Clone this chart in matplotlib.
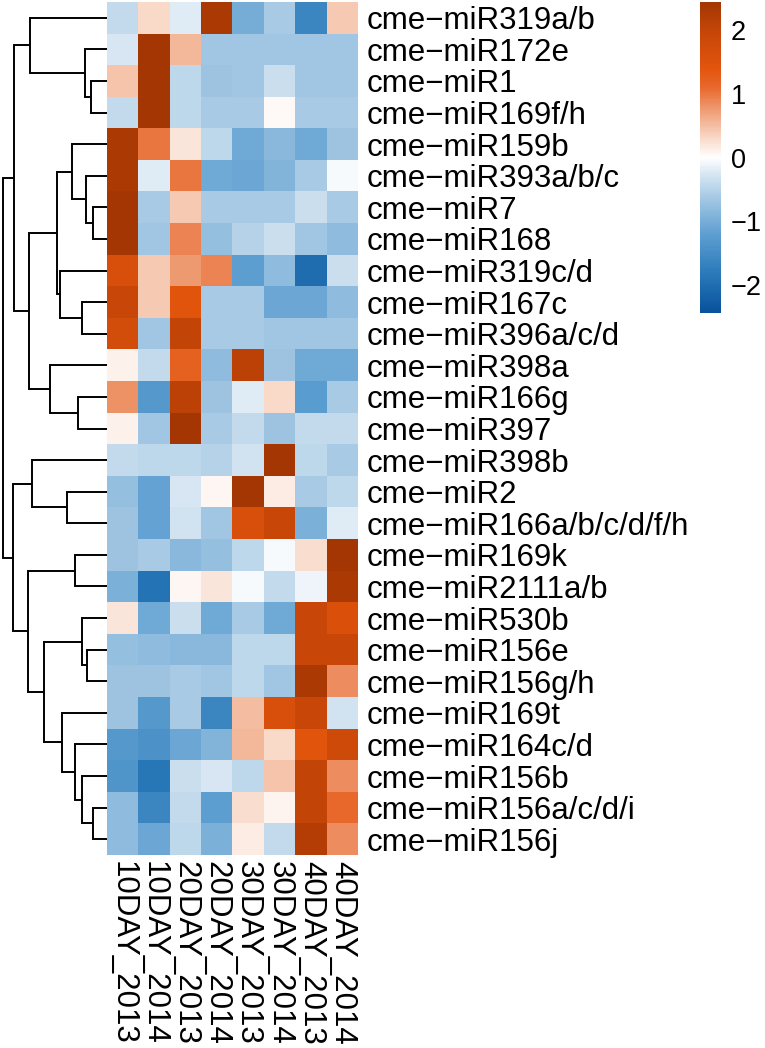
import numpy as np
import matplotlib
matplotlib.use("Agg")
import matplotlib.pyplot as plt
from matplotlib.colors import LinearSegmentedColormap, Normalize

plt.rcParams["font.family"] = ["Liberation Sans", "DejaVu Sans"]

# ---- data ----
MIRNAS = ["cme−miR319a/b", "cme−miR172e", "cme−miR1", "cme−miR169f/h",
          "cme−miR159b", "cme−miR393a/b/c", "cme−miR7", "cme−miR168",
          "cme−miR319c/d", "cme−miR167c", "cme−miR396a/c/d", "cme−miR398a",
          "cme−miR166g", "cme−miR397", "cme−miR398b", "cme−miR2",
          "cme−miR166a/b/c/d/f/h", "cme−miR169k", "cme−miR2111a/b",
          "cme−miR530b", "cme−miR156e", "cme−miR156g/h", "cme−miR169t",
          "cme−miR164c/d", "cme−miR156b", "cme−miR156a/c/d/i", "cme−miR156j"]
SAMPLES = ["10DAY_2013", "10DAY_2014", "20DAY_2013", "20DAY_2014",
           "30DAY_2013", "30DAY_2014", "40DAY_2013", "40DAY_2014"]

Z = np.array([
    [-0.40, 0.30, -0.20, 2.30, -1.00, -0.60, -1.60, 0.40],
    [-0.25, 2.60, 0.55, -0.65, -0.65, -0.65, -0.65, -0.65],
    [0.45, 2.60, -0.45, -0.70, -0.65, -0.35, -0.65, -0.65],
    [-0.40, 2.60, -0.45, -0.60, -0.60, 0.05, -0.60, -0.60],
    [2.30, 1.00, 0.20, -0.45, -1.05, -0.85, -1.05, -0.70],
    [2.30, -0.20, 1.00, -1.05, -1.10, -0.90, -0.60, -0.05],
    [2.55, -0.60, 0.40, -0.60, -0.60, -0.60, -0.35, -0.60],
    [2.50, -0.65, 0.90, -0.75, -0.50, -0.35, -0.65, -0.80],
    [1.60, 0.40, 0.75, 0.90, -1.20, -0.80, -2.00, -0.35],
    [1.90, 0.40, 1.40, -0.60, -0.60, -1.10, -1.10, -0.80],
    [1.70, -0.65, 2.00, -0.60, -0.60, -0.65, -0.65, -0.65],
    [0.10, -0.40, 1.20, -0.80, 2.10, -0.70, -1.05, -1.05],
    [0.80, -1.30, 2.10, -0.70, -0.20, 0.30, -1.25, -0.60],
    [0.10, -0.65, 2.55, -0.60, -0.40, -0.70, -0.40, -0.40],
    [-0.40, -0.45, -0.45, -0.50, -0.30, 2.55, -0.45, -0.60],
    [-0.75, -1.15, -0.25, 0.07, 2.55, 0.15, -0.60, -0.45],
    [-0.70, -1.15, -0.30, -0.65, 1.60, 1.90, -0.95, -0.20],
    [-0.70, -0.60, -0.85, -0.75, -0.45, -0.05, 0.25, 2.50],
    [-0.95, -1.90, 0.07, 0.20, -0.05, -0.40, -0.10, 2.30],
    [0.20, -1.05, -0.35, -1.05, -0.60, -1.05, 1.90, 1.55],
    [-0.75, -0.80, -0.85, -0.85, -0.45, -0.45, 1.90, 1.90],
    [-0.70, -0.70, -0.60, -0.65, -0.45, -0.65, 2.30, 0.85],
    [-0.70, -1.30, -0.60, -1.60, 0.50, 1.60, 1.90, -0.30],
    [-1.30, -1.40, -1.10, -0.90, 0.55, 0.30, 1.40, 1.80],
    [-1.35, -1.85, -0.35, -0.25, -0.45, 0.45, 2.00, 0.85],
    [-0.80, -1.60, -0.40, -1.20, 0.25, 0.08, 2.00, 1.10],
    [-0.80, -1.10, -0.45, -0.95, 0.15, -0.40, 2.20, 0.85],
])

# row dendrogram as nested (left, right, merge height); ints are row indices
_A = (0, (1, (2, 3, 16), 22), 77)
_D = ((4, (5, (6, 7, 14), 21), 35), (8, (9, 10, 25), 47), 50)
_E = (11, (12, 13, 29), 57)
_C1 = (14, (15, 16, 40), 75)
_C2b = ((19, (20, 21, 20), 25), (22, (23, (24, (25, 26, 14), 25), 32), 45), 63)
_C2 = ((17, 18, 32), _C2b, 79)
TREE = ((_A, (_D, _E, 78), 93), (_C1, _C2, 94), 104)

VLIM = 2.43
CMAP_STOPS = [(-2.43, "#08519C"), (-1.8, "#2B7BBA"), (-1.2, "#5E9FD1"),
              (-0.6, "#A9CBE5"), (-0.25, "#D8E7F3"), (0.0, "#FFFFFF"),
              (0.3, "#F9D9C8"), (0.7, "#F0A27C"), (1.1, "#E8682C"),
              (1.4, "#E2550D"), (2.0, "#C44508"), (2.43, "#A33603")]


def make_cmap():
    pos = [(v + VLIM) / (2 * VLIM) for v, _ in CMAP_STOPS]
    return LinearSegmentedColormap.from_list(
        "or_bu", list(zip(pos, [c for _, c in CMAP_STOPS])))


def draw_tree(ax, node):
    if isinstance(node, int):
        return float(node), 0.0
    left, right, h = node
    yl, hl = draw_tree(ax, left)
    yr, hr = draw_tree(ax, right)
    ax.plot([hl, h, h, hr], [yl, yl, yr, yr], color="black", lw=1.4,
            solid_capstyle="butt", solid_joinstyle="miter")
    return (yl + yr) / 2, h


def main():
    W, H = 765, 1048
    fig = plt.figure(figsize=(W / 100, H / 100), dpi=100)
    nrow, ncol = Z.shape

    hx0, hx1, hy0, hy1 = 107, 358, 2, 855
    ax = fig.add_axes([hx0 / W, 1 - hy1 / H, (hx1 - hx0) / W, (hy1 - hy0) / H])
    norm = Normalize(-VLIM, VLIM)
    im = ax.imshow(Z, cmap=make_cmap(), norm=norm, aspect="auto",
                   interpolation="nearest")
    ax.set_xlim(-0.5, ncol - 0.5)
    ax.set_ylim(nrow - 0.5, -0.5)
    for s in ax.spines.values():
        s.set_visible(False)
    ax.set_yticks(np.arange(nrow))
    ax.set_yticklabels(MIRNAS, fontsize=22.5)
    ax.yaxis.tick_right()
    ax.set_xticks(np.arange(ncol))
    ax.set_xticklabels(SAMPLES, fontsize=22.5, rotation=270, ha="center", va="top")
    ax.tick_params(axis="both", length=0)
    ax.tick_params(axis="y", pad=6)
    ax.tick_params(axis="x", pad=4)

    # dendrogram on the left
    dax = fig.add_axes([2 / W, 1 - hy1 / H, (hx0 - 2) / W, (hy1 - hy0) / H])
    draw_tree(dax, TREE)
    dax.set_xlim(105, 0)
    dax.set_ylim(nrow - 0.5, -0.5)
    dax.axis("off")

    # colour legend
    cax = fig.add_axes([700 / W, 1 - 313 / H, 21 / W, 311 / H])
    cb = fig.colorbar(im, cax=cax, ticks=[-2, -1, 0, 1, 2])
    cb.outline.set_visible(False)
    cax.tick_params(length=0, labelsize=19.5, pad=7)

    fig.savefig("out.png", dpi=100)
    plt.close(fig)


if __name__ == "__main__":
    main()
